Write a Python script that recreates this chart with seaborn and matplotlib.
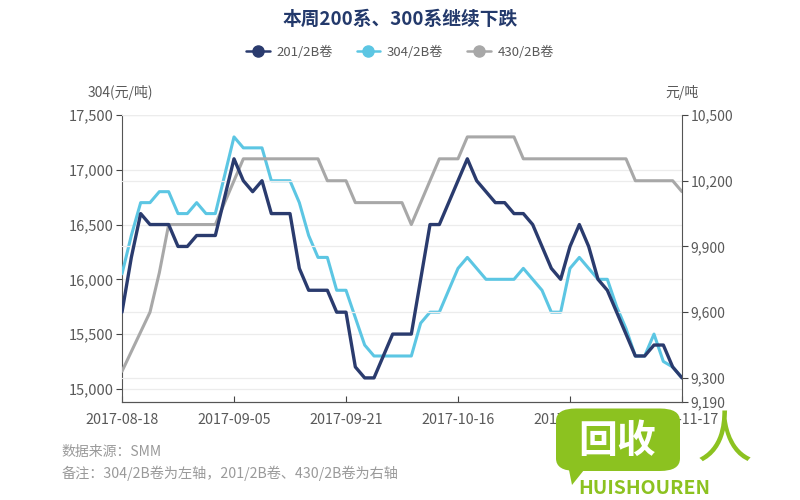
import numpy as np
import pandas as pd
import matplotlib
matplotlib.use("Agg")
import matplotlib.pyplot as plt
from matplotlib.lines import Line2D
from matplotlib.patches import FancyBboxPatch, Polygon
import seaborn as sns

# trading days 2017-08-18 .. 2017-11-17 (National Day holiday removed)
days = pd.bdate_range("2017-08-18", "2017-11-17")
days = days[(days < "2017-10-02") | (days > "2017-10-06")]
dates = [d.strftime("%Y-%m-%d") for d in days]

tick_dates = ["2017-08-18", "2017-09-05", "2017-09-21", "2017-10-16", "2017-11-01", "2017-11-17"]

# 304/2B (left axis)
s304 = [16050, 16400, 16700, 16700, 16800, 16800, 16600, 16600, 16700, 16600,
        16600, 16950, 17300, 17200, 17200, 17200, 16900, 16900, 16900, 16700,
        16400, 16200, 16200, 15900, 15900, 15650, 15400, 15300, 15300, 15300,
        15300, 15300, 15600, 15700, 15700, 15900, 16100, 16200, 16100, 16000,
        16000, 16000, 16000, 16100, 16000, 15900, 15700, 15700, 16100, 16200,
        16100, 16000, 16000, 15750, 15550, 15300, 15300, 15500, 15250, 15200,
        15100]

# 201/2B (right axis)
s201 = [9600, 9850, 10050, 10000, 10000, 10000, 9900, 9900, 9950, 9950,
        9950, 10125, 10300, 10200, 10150, 10200, 10050, 10050, 10050, 9800,
        9700, 9700, 9700, 9600, 9600, 9350, 9300, 9300, 9400, 9500,
        9500, 9500, 9750, 10000, 10000, 10100, 10200, 10300, 10200, 10150,
        10100, 10100, 10050, 10050, 10000, 9900, 9800, 9750, 9900, 10000,
        9900, 9750, 9700, 9600, 9500, 9400, 9400, 9450, 9450, 9350,
        9300]

# 430/2B (right axis)
s430 = [9330, 9420, 9510, 9600, 9780, 10000, 10000, 10000, 10000, 10000,
        10000, 10100, 10200, 10300, 10300, 10300, 10300, 10300, 10300, 10300,
        10300, 10300, 10200, 10200, 10200, 10100, 10100, 10100, 10100, 10100,
        10100, 10000, 10100, 10200, 10300, 10300, 10300, 10400, 10400, 10400,
        10400, 10400, 10400, 10300, 10300, 10300, 10300, 10300, 10300, 10300,
        10300, 10300, 10300, 10300, 10300, 10200, 10200, 10200, 10200, 10200,
        10150]

left_ticks = [15000, 15500, 16000, 16500, 17000, 17500]
right_ticks = [9190, 9300, 9600, 9900, 10200, 10500]

c201 = "#2a3b6e"
c304 = "#5cc6e3"
c430 = "#a8a8a8"
txt = "#595959"

sns.set_style("white")
plt.rcParams["font.family"] = ["Noto Sans CJK SC", "DejaVu Sans"]

df = pd.DataFrame({"date": dates, "pos": np.arange(len(dates)),
                   "s201": s201, "s304": s304, "s430": s430})

fig = plt.figure(figsize=(8, 5), dpi=100)
ax = fig.add_axes([0.1525, 0.196, 0.7, 0.574])
ax2 = ax.twinx()

for t in left_ticks:
    ax.axhline(t, color="#ececec", lw=0.9, zorder=0)
for t in right_ticks[1:]:
    ax2.axhline(t, color="#ececec", lw=0.9, zorder=0)

sns.lineplot(data=df, x="pos", y="s304", ax=ax, color=c304, lw=2.2, zorder=3)
sns.lineplot(data=df, x="pos", y="s430", ax=ax2, color=c430, lw=2.2, zorder=2)
sns.lineplot(data=df, x="pos", y="s201", ax=ax2, color=c201, lw=2.4, zorder=3)

ax.set_xlim(0, len(dates) - 1)
ax.set_ylim(14880, 17500)
ax2.set_ylim(9190, 10500)
ax.set_yticks(left_ticks)
ax.set_yticklabels([f"{v:,}" for v in left_ticks])
ax2.set_yticks(right_ticks)
ax2.set_yticklabels([f"{v:,}" for v in right_ticks])
ax.set_xticks([dates.index(d) for d in tick_dates])
ax.set_xticklabels(tick_dates)
ax.set_xlabel("")
ax.set_ylabel("")
ax2.set_ylabel("")

for a in (ax, ax2):
    for s in a.spines.values():
        s.set_visible(False)
    a.spines["bottom"].set_visible(True)
    a.spines["bottom"].set_color("#555555")
ax.spines["left"].set_visible(True)
ax.spines["left"].set_color("#555555")
ax2.spines["right"].set_visible(True)
ax2.spines["right"].set_color("#555555")

ax.tick_params(axis="y", left=True, length=4, color="#444444", labelsize=10.5, labelcolor=txt, pad=2)
ax2.tick_params(axis="y", right=True, length=4, color="#444444", labelsize=10, labelcolor=txt, pad=2)
ax.tick_params(axis="x", bottom=True, direction="in", length=4, color="#444444",
               labelsize=10.3, labelcolor=txt, pad=8)

fig.text(0.11, 0.815, "304(元/吨)", fontsize=10, color=txt, ha="left", va="center")
fig.text(0.852, 0.815, "元/吨", fontsize=10, color=txt, ha="center", va="center")

fig.text(0.5, 0.962, "本周200系、300系继续下跌", fontsize=13.5, fontweight="bold",
         color="#23396b", ha="center", va="center")

handles = [Line2D([], [], color=c, lw=1.8, marker="o", markersize=8)
           for c in (c201, c304, c430)]
fig.legend(handles, ["201/2B卷", "304/2B卷", "430/2B卷"], loc="center",
           bbox_to_anchor=(0.5, 0.895), ncol=3, frameon=False, fontsize=9.5,
           labelcolor=txt, handlelength=1.8, columnspacing=1.8, handletextpad=0.5)

fig.text(0.077, 0.096, "数据来源：SMM", fontsize=10, color="#9a9a9a", ha="left", va="center")
fig.text(0.077, 0.054, "备注：304/2B卷为左轴，201/2B卷、430/2B卷为右轴", fontsize=10.2,
         color="#9a9a9a", ha="left", va="center")

# watermark
green = "#8cc220"
fig.patches.append(FancyBboxPatch((0.695, 0.058), 0.155, 0.125, boxstyle="round,pad=0,rounding_size=0.025",
                                  transform=fig.transFigure, facecolor=green, edgecolor="none", zorder=5))
fig.patches.append(Polygon([[0.71, 0.07], [0.735, 0.07], [0.715, 0.03]], closed=True,
                           transform=fig.transFigure, facecolor=green, edgecolor="none", zorder=5))
fig.text(0.772, 0.118, "回收", fontsize=28, fontweight="bold", color="white",
         ha="center", va="center", zorder=6)
fig.text(0.905, 0.118, "人", fontsize=40, color=green, ha="center", va="center", zorder=6)
fig.text(0.805, 0.022, "HUISHOUREN", fontsize=14, fontweight="bold", fontstyle="italic",
         color=green, ha="center", va="center", zorder=6)

fig.savefig("out.png", dpi=100, facecolor="white")
